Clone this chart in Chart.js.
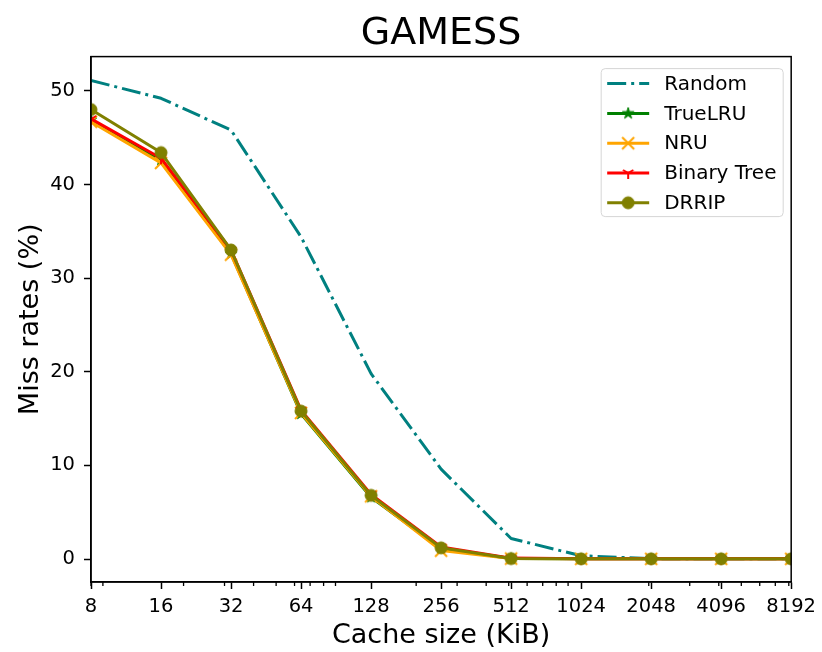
<!DOCTYPE html>
<html><head><meta charset="utf-8">
<script src="https://cdn.jsdelivr.net/npm/chart.js@4.4.1/dist/chart.umd.min.js"></script>
<style>html,body{margin:0;padding:0;background:#fff;}#wrap{width:822px;height:652px;}</style>
</head><body><div id="wrap"><canvas id="c" width="822" height="652"></canvas></div>
<script>
// ---- data ----
const cacheSizes = [8, 16, 32, 64, 128, 256, 512, 1024, 2048, 4096, 8192];
const xTickLabels = ['8', '16', '32', '64', '128', '256', '512', '1024', '2048', '4096', '8192'];
const yTickValues = [0, 10, 20, 30, 40, 50];
const seriesNames = ['Random', 'TrueLRU', 'NRU', 'Binary Tree', 'DRRIP'];
const randomRates     = [51.1, 49.2, 45.8, 34.4, 19.8, 9.6, 2.2, 0.35, 0.05, 0.02, 0.02];
const trueLRURates    = [46.9, 42.6, 32.6, 15.5, 6.6, 1.1, 0.05, 0.02, 0.02, 0.02, 0.02];
const nruRates        = [46.7, 42.3, 32.5, 15.6, 6.7, 0.9, 0.05, 0.02, 0.02, 0.02, 0.02];
const binaryTreeRates = [47.0, 42.8, 33.0, 15.9, 6.9, 1.3, 0.1, 0.02, 0.02, 0.02, 0.02];
const drripRates      = [48.0, 43.4, 33.0, 15.8, 6.8, 1.2, 0.05, 0.02, 0.02, 0.02, 0.02];

// ---- marker images (styles) ----
function makeMarker(type, color) {
  const s = 18, c = s / 2, r = 6;
  const cv = document.createElement('canvas');
  cv.width = s; cv.height = s;
  const g = cv.getContext('2d');
  g.strokeStyle = color; g.fillStyle = color; g.lineWidth = 2; g.lineCap = 'butt';
  if (type === 'circle') {
    g.beginPath(); g.arc(c, c, r, 0, Math.PI * 2); g.fill();
    g.lineWidth = 1; g.stroke();
  } else if (type === 'star') {
    g.beginPath();
    for (let i = 0; i < 10; i++) {
      const rr = i % 2 === 0 ? r : r * 0.382;
      const a = -Math.PI / 2 + i * Math.PI / 5;
      const px = c + rr * Math.cos(a), py = c + rr * Math.sin(a);
      if (i === 0) g.moveTo(px, py); else g.lineTo(px, py);
    }
    g.closePath(); g.fill(); g.lineWidth = 1; g.stroke();
  } else if (type === 'x') {
    g.beginPath();
    g.moveTo(c - r, c - r); g.lineTo(c + r, c + r);
    g.moveTo(c - r, c + r); g.lineTo(c + r, c - r);
    g.stroke();
  } else if (type === 'tri_down') {
    g.beginPath();
    g.moveTo(c, c); g.lineTo(c, c + r);
    g.moveTo(c, c); g.lineTo(c + r * 0.866, c - r * 0.5);
    g.moveTo(c, c); g.lineTo(c - r * 0.866, c - r * 0.5);
    g.stroke();
  }
  return cv;
}

const colors = ['#008080', '#008000', '#FFA500', '#FF0000', '#808000'];
const markers = [null, makeMarker('star', colors[1]), makeMarker('x', colors[2]),
                 makeMarker('tri_down', colors[3]), makeMarker('circle', colors[4])];
const allRates = [randomRates, trueLRURates, nruRates, binaryTreeRates, drripRates];

const datasets = seriesNames.map((name, i) => ({
  label: name,
  data: cacheSizes.map((x, j) => ({ x: x, y: allRates[i][j] })),
  borderColor: colors[i],
  backgroundColor: colors[i],
  borderWidth: 3,
  borderDash: i === 0 ? [19, 5, 3, 5] : [],
  borderJoinStyle: 'round',
  pointStyle: markers[i] || 'circle',
  pointRadius: i === 0 ? 0 : 6,
  pointHoverRadius: i === 0 ? 0 : 6,
  tension: 0,
  order: seriesNames.length - i
}));

const FONT = 'DejaVu Sans';
Chart.defaults.font.family = FONT;
Chart.defaults.color = '#000';

const decoPlugin = {
  id: 'deco',
  afterDraw(chart) {
    const { ctx, chartArea: a } = chart;
    const xs = chart.scales.x;
    ctx.save();
    // minor ticks (log10 minors)
    ctx.strokeStyle = '#000'; ctx.lineWidth = 1.3;
    ctx.beginPath();
    for (let e = 0; e <= 4; e++) {
      for (let k = 2; k <= 9; k++) {
        const v = k * Math.pow(10, e);
        if (v < xs.min || v > xs.max) continue;
        const px = xs.getPixelForValue(v);
        ctx.moveTo(px, a.bottom); ctx.lineTo(px, a.bottom + 4);
      }
    }
    ctx.stroke();
    // frame
    ctx.lineWidth = 1.5;
    ctx.strokeRect(a.left, a.top, a.right - a.left, a.bottom - a.top);
    // legend
    const bx = a.right - 190, by = a.top + 12, bw = 182, bh = 148, rad = 4;
    ctx.beginPath();
    ctx.moveTo(bx + rad, by);
    ctx.arcTo(bx + bw, by, bx + bw, by + bh, rad);
    ctx.arcTo(bx + bw, by + bh, bx, by + bh, rad);
    ctx.arcTo(bx, by + bh, bx, by, rad);
    ctx.arcTo(bx, by, bx + bw, by, rad);
    ctx.closePath();
    ctx.fillStyle = 'rgba(255,255,255,0.8)';
    ctx.fill();
    ctx.strokeStyle = '#d6d6d6'; ctx.lineWidth = 1;
    ctx.stroke();
    chart.data.datasets.forEach((ds, i) => {
      const y = by + 15 + i * 29.8;
      const x0 = bx + 6, x1 = bx + 48;
      ctx.save();
      ctx.strokeStyle = ds.borderColor; ctx.lineWidth = ds.borderWidth;
      ctx.setLineDash(ds.borderDash || []);
      ctx.beginPath(); ctx.moveTo(x0, y); ctx.lineTo(x1, y); ctx.stroke();
      ctx.restore();
      if (ds.pointRadius > 0 && typeof ds.pointStyle === 'object') {
        const m = ds.pointStyle;
        ctx.drawImage(m, (x0 + x1) / 2 - m.width / 2, y - m.height / 2);
      }
      ctx.fillStyle = '#000';
      ctx.font = '20px "' + FONT + '"';
      ctx.textBaseline = 'middle'; ctx.textAlign = 'left';
      ctx.fillText(ds.label, bx + 63, y + 1);
    });
    ctx.restore();
  }
};

new Chart(document.getElementById('c'), {
  type: 'line',
  data: { datasets: datasets },
  plugins: [decoPlugin],
  options: {
    responsive: false,
    animation: false,
    devicePixelRatio: 1,
    layout: { padding: { left: 0, right: 28, top: 0, bottom: 0 } },
    plugins: {
      legend: { display: false },
      tooltip: { enabled: false },
      title: {
        display: true, text: 'GAMESS', fullSize: false,
        font: { size: 38, weight: 'normal', family: FONT, lineHeight: 1.2 },
        color: '#000',
        padding: { top: 11, bottom: 0 }
      }
    },
    scales: {
      x: {
        type: 'logarithmic', min: 8, max: 8192,
        afterBuildTicks: (s) => { s.ticks = cacheSizes.map(v => ({ value: v })); },
        afterFit: (s) => { s.height = 70; },
        ticks: {
          autoSkip: false, maxRotation: 0, padding: 6,
          font: { size: 19.5, family: FONT }, color: '#000',
          callback: (v) => { const idx = cacheSizes.indexOf(v); return idx >= 0 ? xTickLabels[idx] : ''; }
        },
        grid: { display: true, drawOnChartArea: false, drawTicks: true, tickLength: 7, tickWidth: 1.5, tickColor: '#000' },
        border: { display: true, color: '#000', width: 1.5 },
        title: { display: true, text: 'Cache size (KiB)', font: { size: 27, family: FONT, lineHeight: 1.1 }, color: '#000', padding: { top: 0, bottom: 1 } }
      },
      y: {
        type: 'linear', min: -2.45, max: 53.65,
        afterBuildTicks: (s) => { s.ticks = yTickValues.map(v => ({ value: v })); },
        afterFit: (s) => { s.width = 91; },
        ticks: { padding: 9, font: { size: 19.5, family: FONT }, color: '#000', callback: (v) => String(v) },
        grid: { display: true, drawOnChartArea: false, drawTicks: true, tickLength: 7, tickWidth: 1.5, tickColor: '#000' },
        border: { display: true, color: '#000', width: 1.5 },
        title: { display: true, text: 'Miss rates (%)', font: { size: 27, family: FONT, lineHeight: 1.2 }, color: '#000', padding: { top: 15, bottom: 0 } }
      }
    }
  }
});
</script>
</body></html>
